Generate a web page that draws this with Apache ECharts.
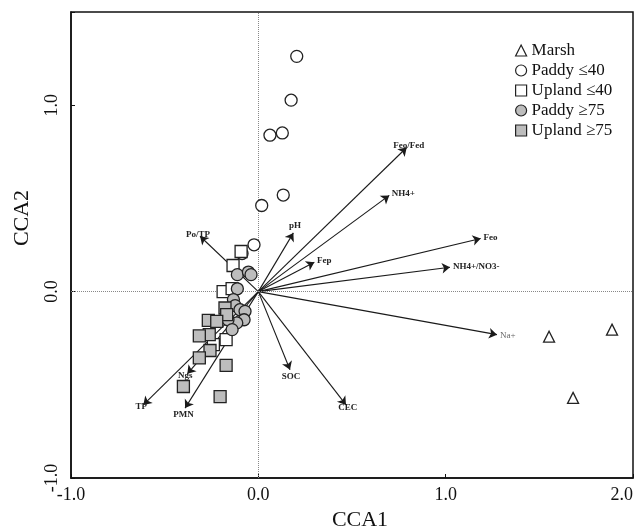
<!DOCTYPE html>
<html>
<head>
<meta charset="utf-8">
<script src="https://cdn.jsdelivr.net/npm/echarts@6/dist/echarts.min.js"></script>
<style>
  html, body { margin: 0; padding: 0; background: #fff; }
  #chart { width: 635px; height: 526px; }
</style>
</head>
<body>
<div id="chart"></div>
<script>
// site scores [CCA1, CCA2]
const marsh = [[1.552, -0.242], [1.888, -0.204], [1.680, -0.570]]
const paddyLow = [
  [0.205, 1.262], [0.175, 1.027], [0.062, 0.839], [0.128, 0.851],
  [0.133, 0.518], [0.018, 0.462], [-0.023, 0.251], [-0.087, 0.204]
]
const uplandLow = [
  [-0.092, 0.215], [-0.135, 0.140], [-0.188, 0.0], [-0.140, 0.016],
  [-0.172, -0.258], [-0.240, -0.285]
]
const paddyHigh = [
  [-0.112, 0.091], [-0.053, 0.105], [-0.039, 0.091], [-0.112, 0.015],
  [-0.133, -0.043], [-0.124, -0.075], [-0.098, -0.097], [-0.071, -0.106],
  [-0.076, -0.151], [-0.115, -0.168], [-0.162, -0.151], [-0.140, -0.204]
]
const uplandHigh = [
  [-0.178, -0.088], [-0.169, -0.124], [-0.267, -0.154], [-0.222, -0.160],
  [-0.262, -0.231], [-0.315, -0.237], [-0.258, -0.316], [-0.315, -0.356],
  [-0.172, -0.396], [-0.400, -0.509], [-0.204, -0.563]
]

// environmental vectors
const vectorNames = ['Feo/Fed', 'NH4+', 'Feo', 'NH4+/NO3-', 'pH', 'Fep', 'Na+', 'Po/TP', 'SOC', 'CEC', 'TP', 'PMN', 'Ngs']
const vectorX = [0.792, 0.699, 1.187, 1.023, 0.187, 0.299, 1.274, -0.311, 0.169, 0.468, -0.614, -0.391, -0.379]
const vectorY = [0.773, 0.516, 0.285, 0.131, 0.315, 0.158, -0.231, 0.297, -0.419, -0.608, -0.608, -0.625, -0.441]

const xTicks = [-1, 0, 1, 2]
const yTicks = [-1, 0, 1]

const serif = '"Liberation Serif", "DejaVu Serif", serif'

const chart = echarts.init(document.getElementById('chart'))

const vectorData = vectorNames.map((name, i) => {
  const item = { name: name, coords: [[0, 0], [vectorX[i], vectorY[i]]] }
  if (name === 'Na+') {
    item.label = { fontWeight: 'normal', color: '#666' }
  }
  return item
})

const pointStyle = (symbol, fill) => ({
  type: 'scatter',
  symbol: symbol,
  symbolSize: symbol === 'triangle' ? 11 : 12,
  z: 5,
  itemStyle: { color: fill, borderColor: '#222', borderWidth: 1.3, opacity: 1 }
})

const option = {
  animation: false,
  backgroundColor: '#fff',
  grid: {
    left: 71,
    right: 2,
    top: 12,
    bottom: 48,
    outerBoundsMode: 'none',
    containLabel: false,
    show: true,
    borderColor: '#111',
    borderWidth: 1.5
  },
  legend: {
    orient: 'vertical',
    left: 510,
    top: 37,
    itemWidth: 11,
    itemHeight: 11,
    itemGap: 3,
    itemStyle: { borderWidth: 1.2 },
    textStyle: { fontFamily: serif, fontSize: 17, color: '#111', lineHeight: 17 },
    data: ['Marsh', 'Paddy ≤40', 'Upland ≤40', 'Paddy ≥75', 'Upland ≥75']
  },
  xAxis: {
    type: 'value',
    min: xTicks[0],
    max: xTicks[xTicks.length - 1],
    interval: 1,
    name: 'CCA1',
    nameLocation: 'middle',
    nameGap: 23,
    nameTextStyle: { fontFamily: serif, fontSize: 22, color: '#111', padding: [0, 0, 0, 16] },
    axisLine: { onZero: false, lineStyle: { color: '#111', width: 1.5 } },
    axisTick: { inside: true, length: 4, lineStyle: { color: '#111' } },
    axisLabel: {
      fontFamily: serif,
      fontSize: 18,
      color: '#111',
      margin: 8,
      alignMaxLabel: 'right',
      formatter: v => v.toFixed(1)
    },
    splitLine: { show: false }
  },
  yAxis: {
    type: 'value',
    min: yTicks[0],
    max: 1.5,
    interval: 1,
    name: 'CCA2',
    nameLocation: 'middle',
    nameGap: 38,
    nameRotate: 90,
    nameTextStyle: { fontFamily: serif, fontSize: 22, color: '#111', padding: [0, 0, 0, 54] },
    axisLine: { onZero: false, lineStyle: { color: '#111', width: 1.5 } },
    axisTick: { inside: true, length: 4, lineStyle: { color: '#111' } },
    axisLabel: {
      fontFamily: serif,
      fontSize: 18,
      color: '#111',
      rotate: 90,
      margin: 10,
      formatter: v => (yTicks.indexOf(v) >= 0 ? v.toFixed(1) : '')
    },
    splitLine: { show: false }
  },
  series: [
    {
      type: 'lines',
      coordinateSystem: 'cartesian2d',
      z: 3,
      symbol: ['none', 'arrow'],
      symbolSize: 8,
      lineStyle: { color: '#1a1a1a', width: 1.1, opacity: 1 },
      label: {
        show: true,
        position: 'end',
        distance: 3,
        formatter: '{b}',
        fontFamily: serif,
        fontSize: 9,
        fontWeight: 'bold',
        color: '#222'
      },
      data: vectorData,
      markLine: {
        silent: true,
        symbol: 'none',
        label: { show: false },
        lineStyle: { color: '#888', type: 'dotted', width: 1 },
        data: [{ xAxis: 0 }, { yAxis: 0 }]
      }
    },
    Object.assign(pointStyle('triangle', '#fff'), { name: 'Marsh', data: marsh }),
    Object.assign(pointStyle('circle', '#fff'), { name: 'Paddy ≤40', data: paddyLow }),
    Object.assign(pointStyle('rect', '#fff'), { name: 'Upland ≤40', data: uplandLow }),
    Object.assign(pointStyle('circle', '#bdbdbd'), { name: 'Paddy ≥75', data: paddyHigh }),
    Object.assign(pointStyle('rect', '#bdbdbd'), { name: 'Upland ≥75', data: uplandHigh })
  ]
}

chart.setOption(option)
</script>
</body>
</html>
